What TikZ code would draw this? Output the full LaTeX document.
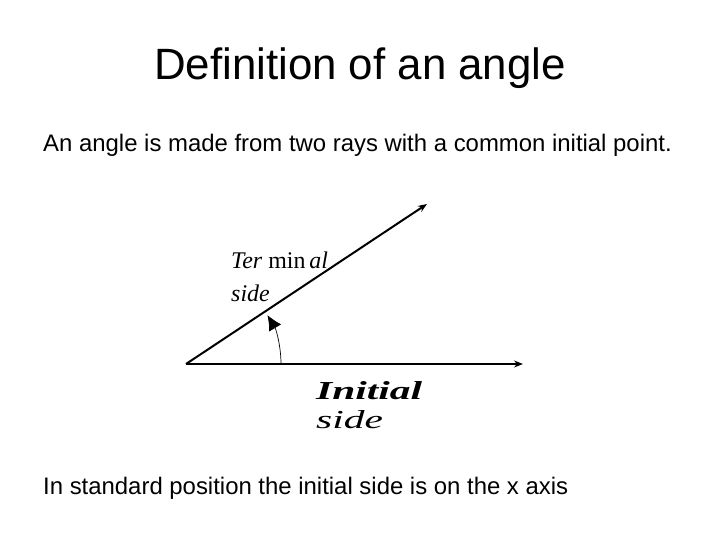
\documentclass[tikz,border=0pt]{standalone}
\usepackage{fontspec}
\setmainfont{Liberation Sans}
\newfontfamily\timesfont{Liberation Serif}
\usepackage{graphicx}
\usetikzlibrary{arrows.meta,positioning}

\begin{document}
\begin{tikzpicture}[x=1bp, y=-1bp,
    ray/.style={line width=2pt, -{Stealth[length=9pt, width=7pt]}},
    txt/.style={anchor=west, inner sep=0pt, font=\fontsize{24}{28}\selectfont},
    lbl/.style={anchor=west, inner sep=0pt, font=\timesfont\fontsize{24}{26}\selectfont},
    wide/.style={anchor=west, inner sep=0pt, font=\timesfont\fontsize{26}{28}\selectfont},
]
\useasboundingbox (0,0) rectangle (720,540);

\node[font=\fontsize{44}{50}\selectfont] (title) at (360,68) {Definition of an angle};
\node[txt] (intro) at (43,145) {An angle is made from two rays with a common initial point.};
\node[txt] (std) at (43,488) {In standard position the initial side is on the x axis};

% the two rays
\coordinate (vertex) at (186,364);
\coordinate (iend) at (523,364);
\coordinate (tend) at (427,204);
\draw[ray] (vertex) -- (iend);
\draw[ray] (vertex) -- (tend);

% angle arc
\draw[line width=0.7pt, -{Latex[length=15pt, width=14pt]}] (vertex) ++(0:95) arc[start angle=0, end angle=-31, radius=95];

% labels
\node[lbl] (term) at (231,260) {\textit{Ter} min\,\textit{al}};
\node[lbl] (tside) at (231,293) {\textit{side}};
\node[wide] (init) at (316,391) {\scalebox{1.6}[1]{\textit{\textbf{Initial}}}};
\node[wide] (iside) at (316,420) {\scalebox{1.6}[1]{\textit{side}}};
\end{tikzpicture}
\end{document}
